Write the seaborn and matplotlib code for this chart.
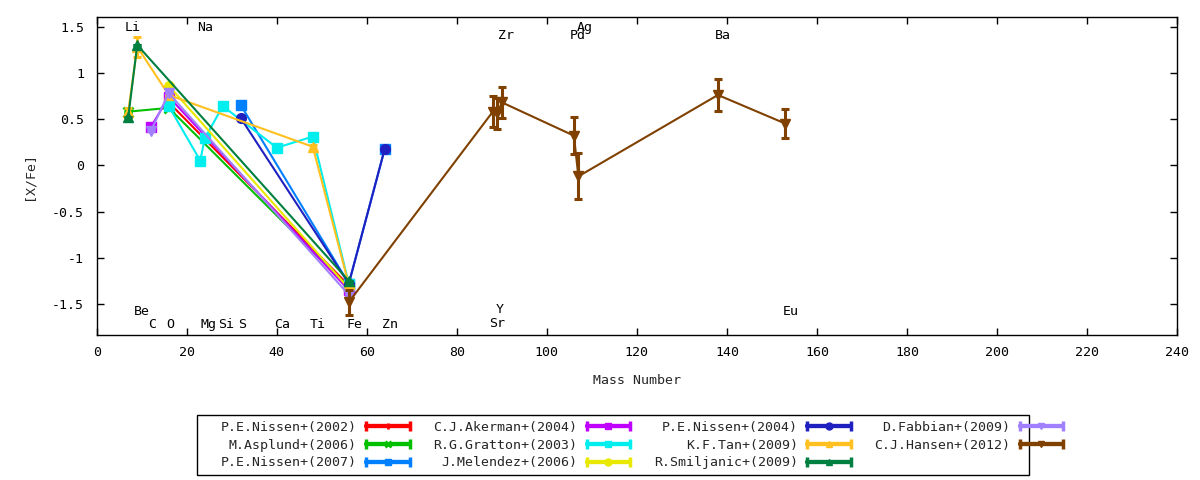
import numpy as np
import pandas as pd
import matplotlib
matplotlib.use("Agg")
import matplotlib.pyplot as plt
import seaborn as sns
from matplotlib.lines import Line2D
from matplotlib.legend_handler import HandlerLine2D
from matplotlib.patches import Rectangle

# ---------------- data ----------------
elements = ["Li", "Be", "C", "O", "Na", "Mg", "Si", "S", "Ca", "Ti", "Fe", "Zn",
            "Sr", "Y", "Zr", "Pd", "Ag", "Ba", "Eu"]
label_x = [8.0, 10.0, 12.2, 16.3, 24.1, 24.8, 28.7, 32.2, 41.1, 49.1, 57.2, 65.2,
           89.0, 89.5, 90.9, 106.9, 108.4, 139.1, 154.2]
label_y = [1.49, -1.58, -1.72, -1.72, 1.49, -1.72, -1.72, -1.72, -1.72, -1.72, -1.72, -1.72,
           -1.71, -1.56, 1.40, 1.40, 1.49, 1.40, -1.58]

nissen2002_x = [16, 56]
nissen2002_y = [0.68, -1.30]
nissen2002_e = [0.0, 0.0]

asplund2006_x = [7, 16, 56]
asplund2006_y = [0.58, 0.62, -1.32]
asplund2006_e = [0.0, 0.0, 0.0]

nissen2007_x = [32, 56, 64]
nissen2007_y = [0.65, -1.28, 0.18]
nissen2007_e = [0.0, 0.0, 0.0]

akerman2004_x = [12, 16, 56]
akerman2004_y = [0.41, 0.74, -1.35]
akerman2004_e = [0.0, 0.0, 0.0]

gratton2003_x = [16, 23, 24, 28, 40, 48, 56]
gratton2003_y = [0.64, 0.05, 0.29, 0.64, 0.19, 0.31, -1.28]
gratton2003_e = [0.0, 0.0, 0.0, 0.0, 0.0, 0.0, 0.0]

melendez2006_x = [16, 56]
melendez2006_y = [0.86, -1.33]
melendez2006_e = [0.0, 0.0]

nissen2004_x = [32, 56, 64]
nissen2004_y = [0.51, -1.28, 0.18]
nissen2004_e = [0.0, 0.0, 0.02]

tan2009_x = [7, 9, 16, 48, 56]
tan2009_y = [0.58, 1.28, 0.76, 0.20, -1.29]
tan2009_e = [0.04, 0.11, 0.0, 0.02, 0.0]

smiljanic2009_x = [7, 9, 56]
smiljanic2009_y = [0.52, 1.30, -1.25]
smiljanic2009_e = [0.0, 0.0, 0.0]

fabbian2009_x = [12, 16, 56]
fabbian2009_y = [0.37, 0.78, -1.40]
fabbian2009_e = [0.0, 0.0, 0.0]

hansen2012_x = [56, 88, 89, 90, 106, 107, 138, 153]
hansen2012_y = [-1.48, 0.58, 0.56, 0.68, 0.32, -0.12, 0.76, 0.45]
hansen2012_e = [0.135, 0.165, 0.165, 0.165, 0.2, 0.25, 0.175, 0.16]

series_names = ["P.E.Nissen+(2002)", "M.Asplund+(2006)", "P.E.Nissen+(2007)",
                "C.J.Akerman+(2004)", "R.G.Gratton+(2003)", "J.Melendez+(2006)",
                "P.E.Nissen+(2004)", "K.F.Tan+(2009)", "R.Smiljanic+(2009)",
                "D.Fabbian+(2009)", "C.J.Hansen+(2012)"]
series_x = [nissen2002_x, asplund2006_x, nissen2007_x, akerman2004_x, gratton2003_x,
            melendez2006_x, nissen2004_x, tan2009_x, smiljanic2009_x, fabbian2009_x, hansen2012_x]
series_y = [nissen2002_y, asplund2006_y, nissen2007_y, akerman2004_y, gratton2003_y,
            melendez2006_y, nissen2004_y, tan2009_y, smiljanic2009_y, fabbian2009_y, hansen2012_y]
series_e = [nissen2002_e, asplund2006_e, nissen2007_e, akerman2004_e, gratton2003_e,
            melendez2006_e, nissen2004_e, tan2009_e, smiljanic2009_e, fabbian2009_e, hansen2012_e]
colors = ["#ff0000", "#00c000", "#0080ff", "#c000ff", "#00eeee", "#e8e800",
          "#2020c0", "#ffc020", "#008040", "#a080ff", "#804000"]
markers = ["+", "x", "s", "s", "s", "o", "o", "^", "^", "v", "v"]

# ---------------- style ----------------
sns.set_theme(style="ticks")
plt.rcParams["font.family"] = ["DejaVu Sans Mono", "DejaVu Sans"]
plt.rcParams["axes.unicode_minus"] = False
FS = 9.5

fig = plt.figure(figsize=(12, 4.8), dpi=100)
ax = fig.add_axes([0.0806, 0.3021, 0.9003, 0.6619])

for i, (name, xs, ys, es, c, m) in enumerate(zip(series_names, series_x, series_y,
                                                  series_e, colors, markers)):
    df = pd.DataFrame({"mass": xs, "xfe": ys})
    mew = 2.0 if m in ("+", "x") else 1.0
    sns.lineplot(data=df, x="mass", y="xfe", ax=ax, color=c, marker=m,
                 markersize=7, markeredgecolor=c, markerfacecolor=c,
                 markeredgewidth=mew, linewidth=1.5, sort=False,
                 estimator=None, legend=False, zorder=3 + i)
    ax.errorbar(xs, ys, yerr=es, fmt="none", ecolor=c, elinewidth=2.2,
                capsize=3.2, capthick=2.2, zorder=3 + i)

for el, lx, ly in zip(elements, label_x, label_y):
    ax.text(lx, ly, el, ha="center", va="center", fontsize=FS, color="black", zorder=20)

ax.set_xlim(0, 240)
ax.set_ylim(-1.835, 1.6)
ax.set_xticks(np.arange(0, 241, 20))
ax.set_yticks([-1.5, -1, -0.5, 0, 0.5, 1, 1.5])
ax.set_yticklabels(["-1.5", "-1", "-0.5", "0", "0.5", "1", "1.5"])
ax.tick_params(direction="in", length=5, width=1, top=True, right=True,
               labelsize=FS, colors="black")
ax.tick_params(axis="x", pad=8)
ax.tick_params(axis="y", pad=9)
for sp in ax.spines.values():
    sp.set_color("black")
    sp.set_linewidth(1)
ax.set_xlabel("Mass Number", fontsize=FS, labelpad=11)
ax.set_ylabel("[X/Fe]", fontsize=FS, labelpad=12)
ax.grid(False)

# ---------------- legend ----------------
handles = []
hmap = {}
for c, m in zip(colors, markers):
    caps = Line2D([], [], color=c, lw=3, marker="|", markersize=7, markeredgewidth=2.5)
    mk = Line2D([], [], color=c, lw=3, marker=m, markersize=5, markeredgecolor=c,
                markerfacecolor=c, markeredgewidth=2 if m in ("+", "x") else 1)
    hmap[caps] = HandlerLine2D(numpoints=2, marker_pad=0)
    hmap[mk] = HandlerLine2D(numpoints=1)
    handles.append((caps, mk))

fig.legend(handles, series_names, ncol=4, loc="center",
           bbox_to_anchor=(0.535, 0.0729), frameon=False, markerfirst=False,
           handlelength=3.3, handletextpad=0.7, columnspacing=1.8,
           labelspacing=0.35, fontsize=FS, handler_map=hmap)
fig.add_artist(Rectangle((197 / 1200, 1 - 475 / 480), 832 / 1200, 60 / 480,
                         transform=fig.transFigure, fill=False,
                         edgecolor="black", linewidth=1))

fig.savefig("out.png", dpi=100, facecolor="white")
